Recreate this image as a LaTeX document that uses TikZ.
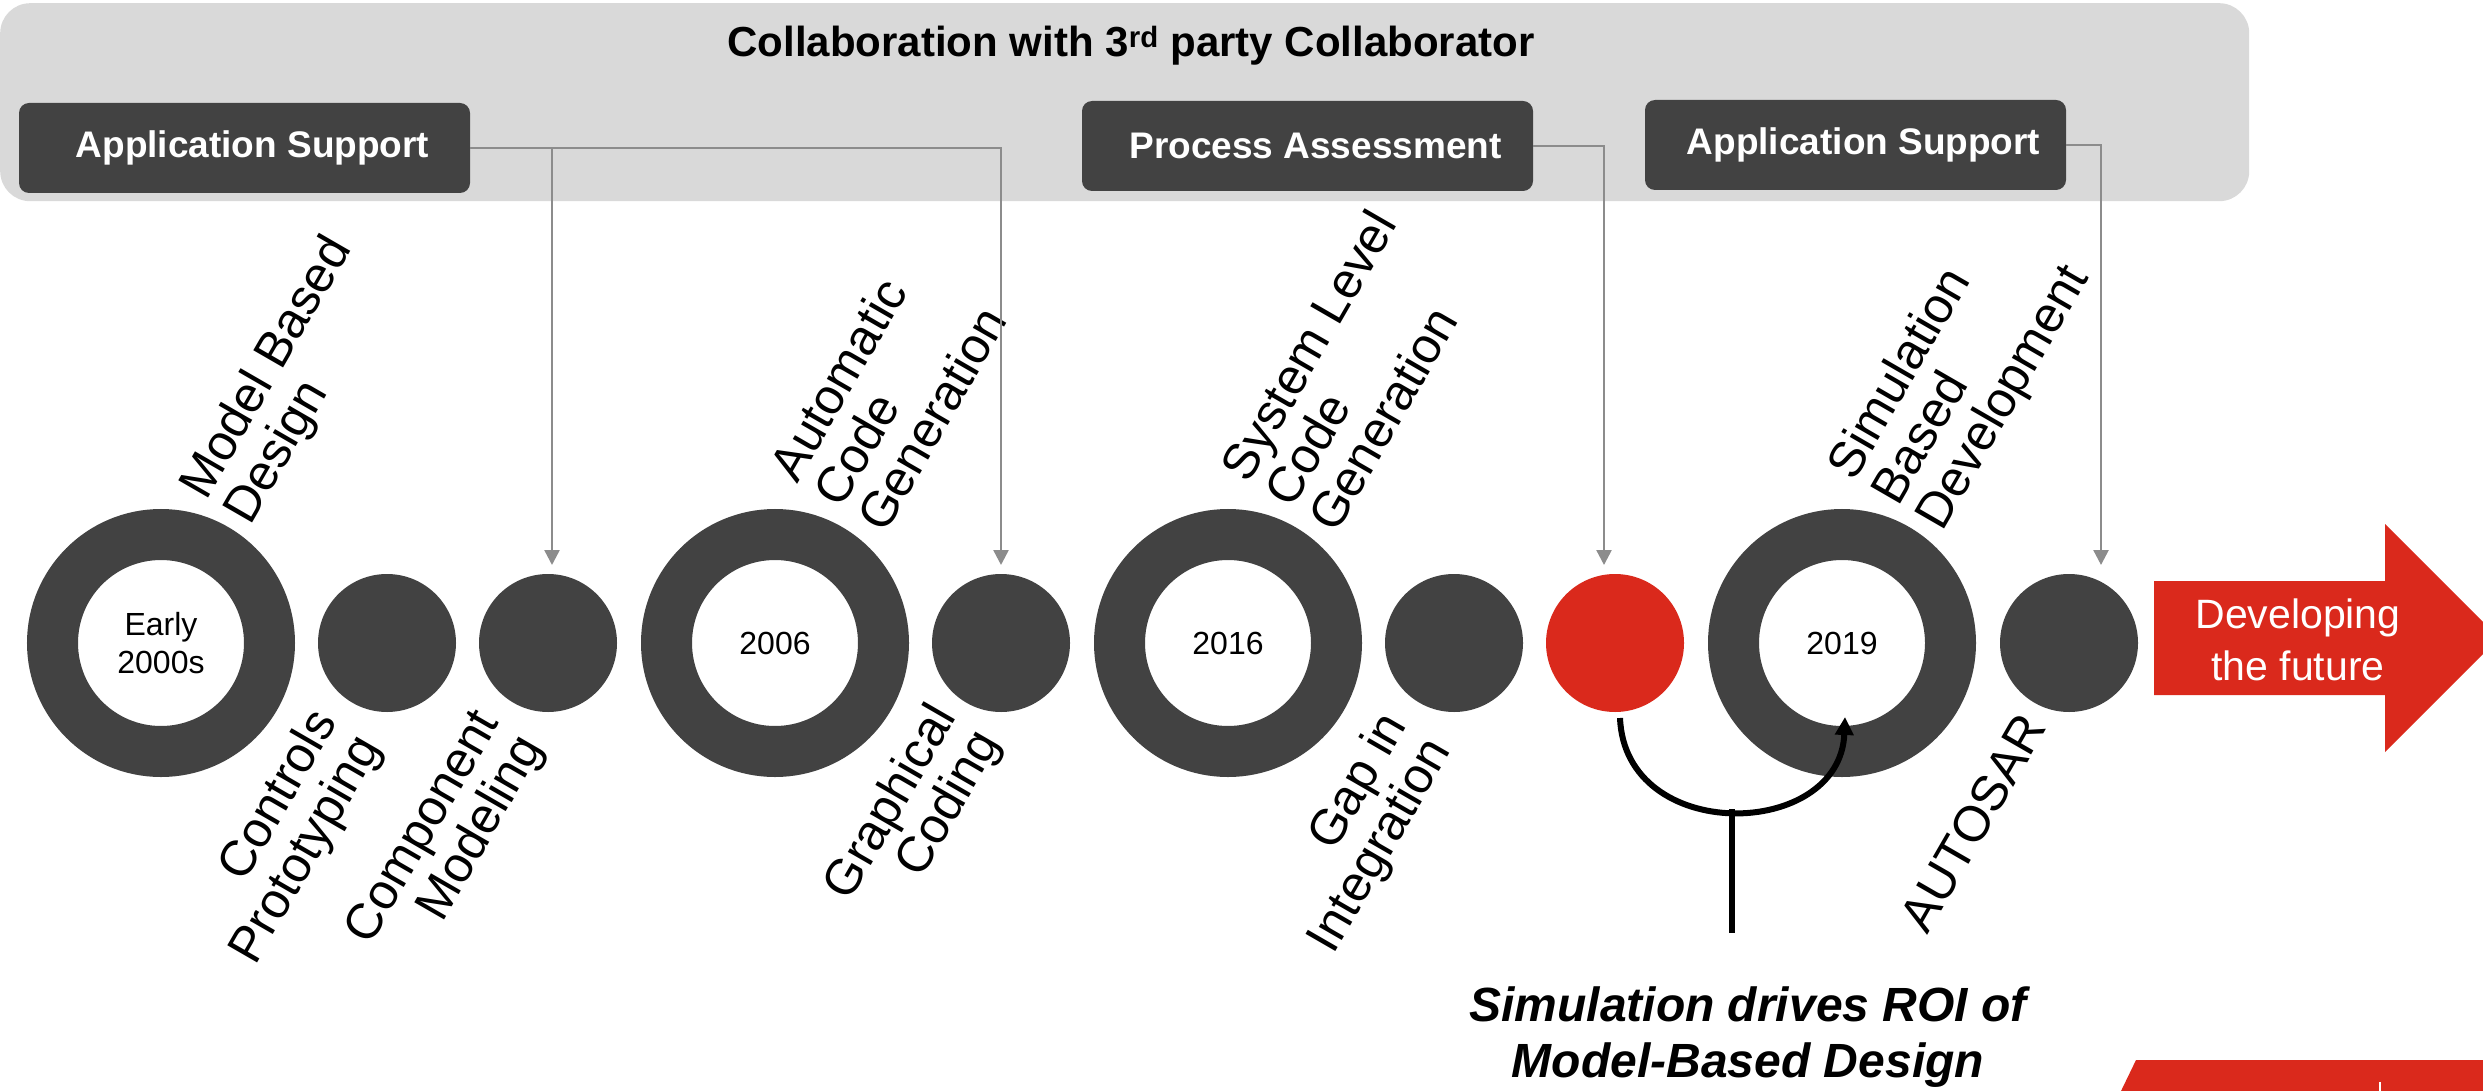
\documentclass[tikz,border=0pt]{standalone}
\usepackage{fontspec}
\setmainfont{Liberation Sans}
\usetikzlibrary{arrows.meta}
\definecolor{ringgray}{HTML}{424242}
\definecolor{bannergray}{HTML}{D9D9D9}
\definecolor{linkgray}{HTML}{8C8C8C}
\definecolor{accentred}{HTML}{DA291C}
\newcommand\stagefont{\fontsize{50}{48}\selectfont}
\newcommand\yearfont{\fontsize{32}{38}\selectfont}
\newcommand\tagtext[1]{\hspace*{16pt}\raisebox{-3pt}{#1}}
\begin{document}
\begin{tikzpicture}[x=1pt,y=-1pt,
  ring/.style={circle,draw=ringgray,line width=51pt,fill=white,minimum size=217pt,
    inner sep=0pt,font=\yearfont,align=center},
  dot/.style={circle,fill=ringgray,minimum size=138pt,inner sep=0pt},
  reddot/.style={dot,fill=accentred},
  tagbox/.style={rounded corners=10pt,fill=ringgray,text=white,
    font=\fontsize{37}{44}\selectfont\bfseries,minimum height=90pt,inner sep=0pt},
  linkline/.style={draw=linkgray,line width=2.5pt},
  link/.style={linkline,-{Triangle[length=15pt,width=15pt]}},
  stageup/.style={rotate=60,anchor=base west,inner sep=0pt,font=\stagefont},
  stagedown/.style={rotate=60,anchor=base east,inner sep=0pt,font=\stagefont},
]
\useasboundingbox (0,0) rectangle (2483,1091);
\clip (0,0) rectangle (2483,1091);

% collaboration banner
\node[fill=bannergray,rounded corners=30pt,minimum width=2249pt,minimum height=198pt,
  inner sep=0pt,anchor=north west] (banner) at (0,3) {};
\node[font=\fontsize{42}{48}\selectfont\bfseries] (title) at (1131,46)
  {Collaboration with 3\textsuperscript{rd} party Collaborator};
\node[tagbox,minimum width=451pt] (sup1) at (244.5,148) {\tagtext{Application Support}};
\node[tagbox,minimum width=451pt] (proc) at (1307.5,146) {\tagtext{Process Assessment}};
\node[tagbox,minimum width=421pt] (sup2) at (1855.5,145) {\tagtext{Application Support}};

% timeline milestones
\node[ring] (r1) at (161,643) {Early\\2000s};
\node[dot] (c2) at (387,643) {};
\node[dot] (c3) at (548,643) {};
\node[ring] (r2) at (775,643) {2006};
\node[dot] (c4) at (1001,643) {};
\node[ring] (r3) at (1228,643) {2016};
\node[dot] (c5) at (1454,643) {};
\node[reddot] (cr) at (1615,643) {};
\node[ring] (r4) at (1842,643) {2019};
\node[dot] (c6) at (2069,643) {};

% milestone captions
\node[stageup] (l1) at (250,527) {\begin{tabular}[b]{@{}l@{}}Model Based\\Design\end{tabular}};
\node[stageup] (l2) at (885,535) {\begin{tabular}[b]{@{}l@{}}Automatic\\Code\\Generation\end{tabular}};
\node[stageup] (l3) at (1336,535) {\begin{tabular}[b]{@{}l@{}}System Level\\Code\\Generation\end{tabular}};
\node[stageup] (l4) at (1942,533) {\begin{tabular}[b]{@{}l@{}}Simulation\\Based\\Development\end{tabular}};
\node[stagedown] (l5) at (338,722) {\begin{tabular}[t]{@{}r@{}}Controls\\Prototyping\end{tabular}};
\node[stagedown] (l6) at (500,722) {\begin{tabular}[t]{@{}r@{}}Component\\Modeling\end{tabular}};
\node[stagedown] (l7) at (957,717) {\begin{tabular}[t]{@{}r@{}}Graphical\\Coding\end{tabular}};
\node[stagedown] (l8) at (1408,725) {\begin{tabular}[t]{@{}r@{}}Gap in\\Integration\end{tabular}};
\node[stagedown] (l9) at (2048,727) {AUTOSAR};

% support connectors
\coordinate (drop1) at (552,148);
\coordinate (tip1) at (552,565);
\coordinate (bend2) at (1001,148);
\coordinate (tip2) at (1001,565);
\coordinate (bend3) at (1604,146);
\coordinate (tip3) at (1604,565);
\coordinate (bend4) at (2101,145);
\coordinate (tip4) at (2101,565);
\draw[link] (sup1.east) -- (bend2) -- (tip2);
\draw[link] (drop1) -- (tip1);
\draw[link] (proc.east) -- (bend3) -- (tip3);
\draw[link] (sup2.east) -- (bend4) -- (tip4);

% simulation loop
\coordinate (loopstart) at (1620,718);
\coordinate (loopend) at (1845,717);
\coordinate (stemtop) at (1732,809);
\coordinate (stemfoot) at (1732,933);
\draw[line width=6pt,-{Triangle[length=18pt,width=18pt]}]
  (loopstart) .. controls (1625,845) and (1840,840) .. (loopend);
\draw[line width=6pt] (stemtop) -- (stemfoot);
\node[anchor=base,inner sep=0pt,font=\fontsize{48}{56}\selectfont\bfseries\itshape] (roi)
  at (1748,1021) {\begin{tabular}[t]{@{}c@{}}Simulation drives ROI of\\Model-Based Design\end{tabular}};

% future arrow
\fill[accentred] (2154,581) -- (2385,581) -- (2385,524) -- (2499,638) -- (2385,752)
  -- (2385,695) -- (2154,695) -- cycle;
\node[anchor=base,inner sep=0pt,text=white,font=\fontsize{41}{52}\selectfont] (future)
  at (2298,628) {\begin{tabular}[t]{@{}c@{}}Developing\\the future\end{tabular}};

% red band at the lower edge
\fill[accentred] (2136,1060) -- (2483,1060) -- (2483,1091) -- (2121,1091) -- cycle;
\draw[white,line width=2pt] (2380,1082) -- (2380,1091);
\end{tikzpicture}
\end{document}
